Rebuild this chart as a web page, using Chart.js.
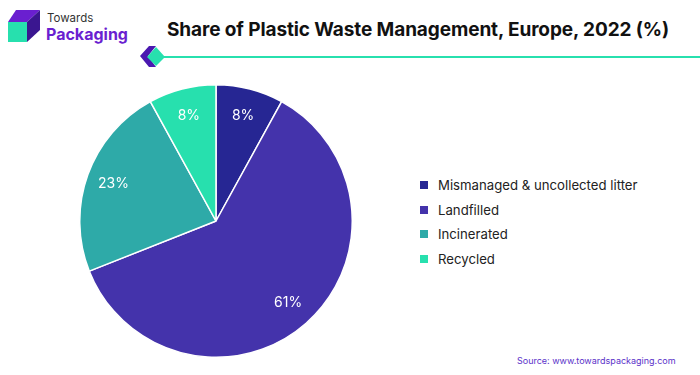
<!DOCTYPE html>
<html>
<head>
<meta charset="utf-8">
<script src="https://cdn.jsdelivr.net/npm/chart.js@4"></script>
<style>
  body { margin: 0; background: #fff; font-family: Inter, "Noto Sans", sans-serif; }
  #wrap { position: relative; width: 700px; height: 375px; overflow: hidden; }
  #title { position: absolute; left: 167px; top: 18px; font-size: 19px; font-weight: 700; color: #111; letter-spacing: -0.1px; white-space: nowrap; }
  #logoText1 { position: absolute; left: 47px; top: 11px; font-size: 11.5px; color: #333; }
  #logoText2 { position: absolute; left: 46px; top: 24px; font-size: 16px; font-weight: 700; color: #6a1fd0; }
  #pieBox { position: absolute; left: 79px; top: 84px; width: 274px; height: 274px; }
  #legend { position: absolute; left: 420px; top: 173px; }
  .item { display: flex; align-items: center; height: 24.6px; font-size: 13.2px; color: #222; }
  .sw { width: 8px; height: 8px; margin-right: 10px; }
  #source { position: absolute; left: 517px; top: 355px; font-size: 9px; color: #5b32c9; }
</style>
</head>
<body>
<div id="wrap">
  <svg width="700" height="80" style="position:absolute;left:0;top:0">
    <polygon points="8,22 16,10 40,10 27,22" fill="#6a1fd0"/>
    <polygon points="27,22 40,10 40,30 27,42" fill="#3a1690"/>
    <rect x="8" y="22" width="19" height="20" fill="#27e0ae"/>
    <polygon points="140,56 149,46 156,46 148,56 156,67 149,67" fill="#4a18b0"/>
    <polygon points="156,47 165,57 156,66 147,57" fill="#27e0ae"/>
    <rect x="163" y="56" width="537" height="2" fill="#27e0ae"/>
  </svg>
  <div id="logoText1">Towards</div>
  <div id="logoText2">Packaging</div>
  <div id="title">Share of Plastic Waste Management, Europe, 2022 (%)</div>
  <div id="pieBox"><canvas id="pie"></canvas></div>
  <div id="legend"></div>
  <div id="source">Source: www.towardspackaging.com</div>
</div>
<script>
const categories = ['Mismanaged & uncollected litter', 'Landfilled', 'Incinerated', 'Recycled'];
const shares = [8, 61, 23, 8];
const colors = ['#262693', '#4433ab', '#2eaaa8', '#27e0ae'];

const legend = document.getElementById('legend');
categories.forEach((c, i) => {
  const d = document.createElement('div');
  d.className = 'item';
  d.innerHTML = '<span class="sw" style="background:' + colors[i] + '"></span>' + c;
  legend.appendChild(d);
});

// draws the % inside each slice
const sliceLabels = {
  id: 'sliceLabels',
  afterDatasetsDraw(chart) {
    const ctx = chart.ctx;
    const meta = chart.getDatasetMeta(0);
    ctx.save();
    ctx.fillStyle = '#fff';
    ctx.font = '14px Inter, "Noto Sans", sans-serif';
    ctx.textAlign = 'center';
    ctx.textBaseline = 'middle';
    meta.data.forEach((arc, i) => {
      const p = arc.getProps(['x', 'y', 'startAngle', 'endAngle', 'outerRadius']);
      const a = (p.startAngle + p.endAngle) / 2;
      const r = p.outerRadius * 0.8;
      ctx.fillText(shares[i] + '%', p.x + Math.cos(a) * r, p.y + Math.sin(a) * r);
    });
    ctx.restore();
  }
};

new Chart(document.getElementById('pie').getContext('2d'), {
  type: 'pie',
  data: {
    labels: categories,
    datasets: [{
      data: shares,
      backgroundColor: colors,
      borderColor: '#fff',
      borderWidth: 1.5
    }]
  },
  options: {
    responsive: true,
    maintainAspectRatio: false,
    animation: false,
    layout: { padding: 0 },
    plugins: {
      legend: { display: false },
      tooltip: { enabled: false }
    }
  },
  plugins: [sliceLabels]
});
</script>
</body>
</html>
